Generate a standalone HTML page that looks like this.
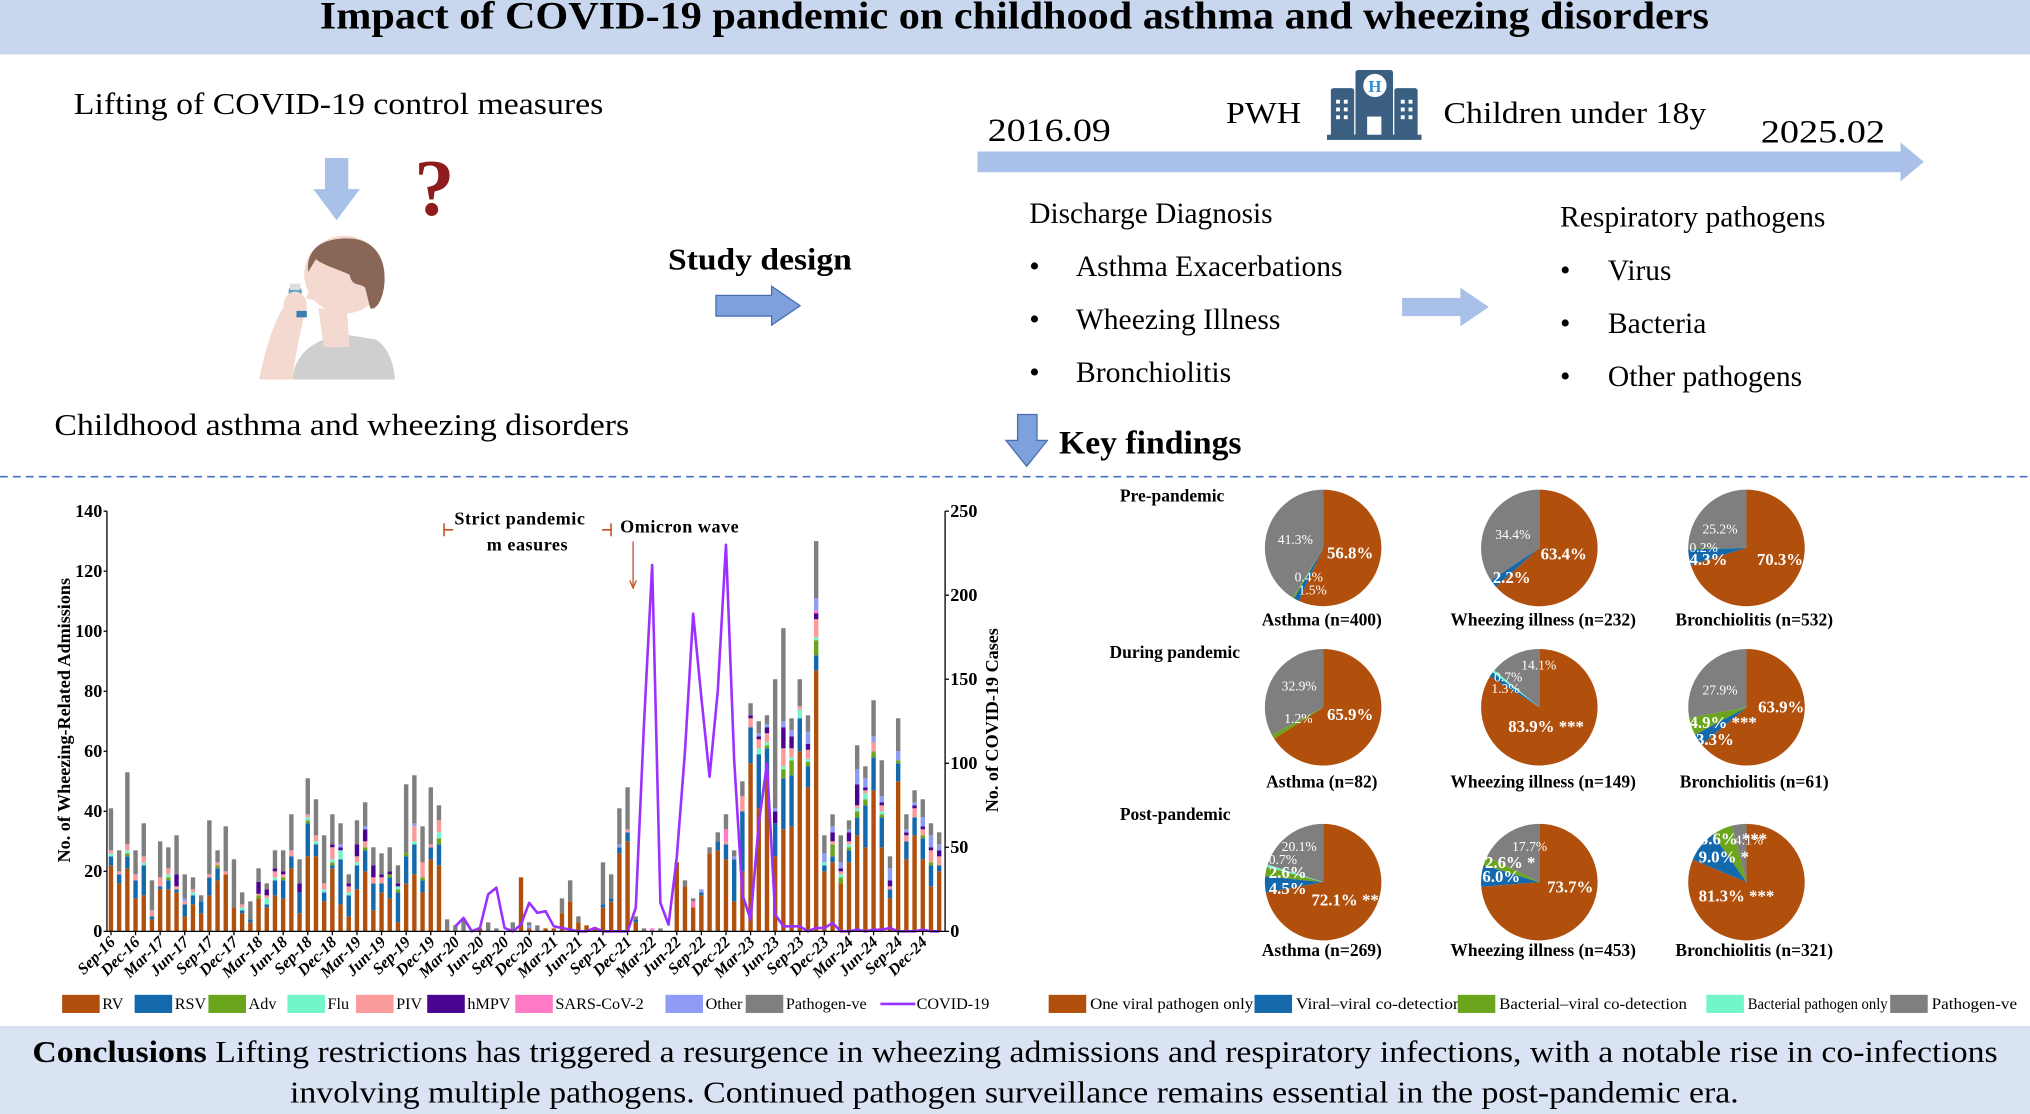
<!DOCTYPE html>
<html><head><meta charset="utf-8"><title>Impact of COVID-19 pandemic on childhood asthma</title>
<style>
html,body{margin:0;padding:0;background:#fff;}
svg{display:block;}
text{font-family:"Liberation Serif",serif;}
</style></head>
<body>
<svg id="root" xmlns="http://www.w3.org/2000/svg" width="2030" height="1114" viewBox="0 0 1568 860" preserveAspectRatio="none">
<rect x="0" y="0" width="1568" height="860" fill="#fff"/>
<rect x="0" y="0" width="1568" height="42" fill="#c8d6ee"/>
<text x="247" y="22" font-size="30" font-weight="bold" fill="#000" textLength="1073" lengthAdjust="spacingAndGlyphs">Impact of COVID-19 pandemic on childhood asthma and wheezing disorders</text>

<text x="57" y="88" font-size="24" textLength="409" lengthAdjust="spacingAndGlyphs">Lifting of COVID-19 control measures</text>
<path d="M251,122 H269 V146 H278 L260,170 L242,146 H251 Z" fill="#a9c0e8"/>
<text x="320" y="166" font-size="62" font-weight="bold" fill="#8e1c1c" font-family="Liberation Sans, sans-serif">?</text>
<g>
  <path d="M200,293 C205,270 212,245 222,233 L236,240 C232,255 228,275 226,293 Z" fill="#f3d9cf"/>
  <path d="M226,293 C228,270 245,262 265,258 L290,262 C300,268 304,280 305,293 Z" fill="#cfcfcf"/>
  <path d="M246,238 L250,268 L270,268 L268,240 Z" fill="#f3d9cf"/>
  <ellipse cx="266" cy="212" rx="31" ry="30" fill="#f3d9cf"/>
  <path d="M238,210 C236,190 252,184 268,184 C290,184 298,200 297,218 C296,232 290,240 286,238 L282,222 C278,218 272,222 270,212 C262,208 250,205 244,200 Z" fill="#8a6656"/>
  <path d="M242,220 L236,230 L243,232 Z" fill="#f3d9cf"/>
  <rect x="223" y="222" width="10" height="22" rx="2" fill="#4a9ccc"/>
  <rect x="224" y="219" width="8" height="5" fill="#ddd"/>
  <ellipse cx="228" cy="236" rx="9" ry="11" fill="#f3d9cf"/>
  <rect x="229" y="240" width="8" height="5" fill="#3a7fb0"/>
</g>
<text x="42" y="336" font-size="24" textLength="444" lengthAdjust="spacingAndGlyphs">Childhood asthma and wheezing disorders</text>

<text x="516" y="208" font-size="24" font-weight="bold" textLength="142" lengthAdjust="spacingAndGlyphs">Study design</text>
<path d="M553,228 H596 V221 L618,236 L596,251 V244 H553 Z" fill="#7ea0dc" stroke="#4a6fb0" stroke-width="1"/>

<path d="M755,117 H1468 V110 L1486,125 L1468,140 V133 H755 Z" fill="#a9c0e8"/>
<text x="763" y="109" font-size="25" textLength="95" lengthAdjust="spacingAndGlyphs">2016.09</text>
<text x="947" y="95" font-size="24" textLength="58" lengthAdjust="spacingAndGlyphs">PWH</text>
<g fill="#3b5f80">
  <rect x="1047" y="54" width="29" height="52" rx="2"/>
  <rect x="1028" y="68" width="18" height="38" rx="2"/>
  <rect x="1077" y="68" width="18" height="38" rx="2"/>
  <rect x="1025" y="104" width="73" height="4"/>
  <circle cx="1062" cy="66" r="9" fill="#fff"/>
  <text x="1062" y="71" text-anchor="middle" font-size="13" font-weight="bold" fill="#2f8fd8" font-family="Liberation Sans, sans-serif">H</text>
  <rect x="1056" y="90" width="11" height="14" fill="#fff"/>
  <g fill="#fff">
   <rect x="1032" y="77" width="3" height="3"/><rect x="1038" y="77" width="3" height="3"/>
   <rect x="1032" y="83" width="3" height="3"/><rect x="1038" y="83" width="3" height="3"/>
   <rect x="1032" y="89" width="3" height="3"/><rect x="1038" y="89" width="3" height="3"/>
   <rect x="1082" y="77" width="3" height="3"/><rect x="1088" y="77" width="3" height="3"/>
   <rect x="1082" y="83" width="3" height="3"/><rect x="1088" y="83" width="3" height="3"/>
   <rect x="1082" y="89" width="3" height="3"/><rect x="1088" y="89" width="3" height="3"/>
  </g>
</g>
<text x="1115" y="95" font-size="24" textLength="203" lengthAdjust="spacingAndGlyphs">Children under 18y</text>
<text x="1360" y="110" font-size="25" textLength="96" lengthAdjust="spacingAndGlyphs">2025.02</text>

<text x="795" y="172" font-size="23" textLength="188" lengthAdjust="spacingAndGlyphs">Discharge Diagnosis</text>
<g font-size="23">
  <text x="795" y="213">•</text><text x="831" y="213" textLength="206" lengthAdjust="spacingAndGlyphs">Asthma Exacerbations</text>
  <text x="795" y="254">•</text><text x="831" y="254" textLength="158" lengthAdjust="spacingAndGlyphs">Wheezing Illness</text>
  <text x="795" y="295">•</text><text x="831" y="295" textLength="120" lengthAdjust="spacingAndGlyphs">Bronchiolitis</text>
</g>
<path d="M1083,230 H1128 V222 L1150,237 L1128,252 V244 H1083 Z" fill="#a9c0e8"/>
<text x="1205" y="175" font-size="23" textLength="205" lengthAdjust="spacingAndGlyphs">Respiratory pathogens</text>
<g font-size="23">
  <text x="1205" y="216">•</text><text x="1242" y="216" textLength="49" lengthAdjust="spacingAndGlyphs">Virus</text>
  <text x="1205" y="257">•</text><text x="1242" y="257" textLength="76" lengthAdjust="spacingAndGlyphs">Bacteria</text>
  <text x="1205" y="298">•</text><text x="1242" y="298" textLength="150" lengthAdjust="spacingAndGlyphs">Other pathogens</text>
</g>
<path d="M786,320 H801 V340 H809 L793,360 L777,340 H786 Z" fill="#7ea0dc" stroke="#4a6fb0" stroke-width="1"/>
<text x="818" y="350" font-size="25" font-weight="bold" textLength="141" lengthAdjust="spacingAndGlyphs">Key findings</text>

<line x1="0" y1="368" x2="1568" y2="368" stroke="#4472c4" stroke-width="1.3" stroke-dasharray="6,4"/>

<g id="chart"></g>
<g id="pies"></g>

<rect x="0" y="792" width="1568" height="68" fill="#d9e3f3"/>
<text x="25" y="820" font-size="24" textLength="1518" lengthAdjust="spacingAndGlyphs"><tspan font-weight="bold">Conclusions</tspan> Lifting restrictions has triggered a resurgence in wheezing admissions and respiratory infections, with a notable rise in co-infections</text>
<text x="224" y="851" font-size="24" textLength="1119" lengthAdjust="spacingAndGlyphs">involving multiple pathogens. Continued pathogen surveillance remains essential in the post-pandemic era.</text>
</svg>

<script>
const rv = [22,16,21,11,12,4,14,14,13,5, 9,6,12,17,19,8,6,3,11,8, 12,11,21,6,25,25,10,21,9,5, 14,20,7,13,11,3,16,19,13,24, 22,0.5,0,0,0,1,0,0,0,0, 18,1,0,1,1,6,10,3,2,1, 8,10,26,30,3,0,0,0,0,23, 15,8,12,26,27,24,10,20,56,41, 51,25,34,35,60,48,87,20,23,16, 23,32,28,47,28,11,50,24,32,24, 15,20];
const rsv = [3,3,4,6,10,1,1,3,1,4, 3,4,6,4,0,0,1,1,0,1, 5,6,4,7,11,4,3,1,15,7, 8,7,9,3,7,10,9,10,4,4, 7,0,0,0,0,0,0,0,0,0, 0,0,0,0,0,0,0,0,0,0, 1,1,2,3,1,0,0,0,0,0, 0,0,1,0,3,5,14,20,12,18, 10,11,17,17,11,7,5,2,2,0, 4,6,14,11,10,3,6,6,6,7, 7,2];
const adv = [0,0,1,0,0,0,0,1,0,0, 0,0,0,1,0,0,0,0,1,0, 0,1,0,0,1,0,0,1,0,0, 0,1,0,0,1,1,1,0,1,0, 2,0,0,0,0,0,0,0,0,0, 0,0,0,0,0,0,0,0,0,0, 0,0,0,0,0,0,0,0,0,0, 0,0,0,0,0,0,0,0,0,0, 1,0,3,5,0,1.5,5,0,4,2, 1,2,2,2,1,0,1,0,0,1, 1,0];
const flu = [1,0,1,0,1,0,0,1,0,0, 1,0,0,0,0,0,1,0,0,2, 1,0,0,0,1,1,1,1,3,1, 1,0,0,0,0,1,0,1,0,0, 2,0,0,0,0,0,0,0,0,0, 0,0,0,0,0,0,0,0,0,0, 0,0,0,0,0,0,0,0,0,0, 0,0,0,0,0,0,0,0,0,2, 1,0,1,1,3,1,1,1,0,1, 1,1,2,0,1,0,0,0,0,0, 0,0];
const piv = [1,1,2,2,2,2,3,2,1,1, 1,0,1,1,1,0,1,0,0.5,1, 2,1,2,0,1,2,2,4,0,2, 2,2,2,2,0,0,0,5,5,1, 4,0,0,0,0,0,0,0,0,0, 0,0,0,0,0,0,0,0,0,0, 0,0,0,1,0,0,0,0,0,0, 0,0,0,0,0,1,0,5,3,3, 3,0,6,3,1,3,6,0,1,1, 1,1,1,3,2,1,0,2,3,2, 4,3];
const hmpv = [0,0,0,0,0,0,0,0,4,0, 0,0,0,0,0,0,0,0,4,2, 1,1,0,3,0,0,0,1,1,1, 4,4,4,1,1,1,0,0,0,0, 0,0,0,0,0,0,0,0,0,0, 0,0,0,0,0,0,0,0,0,0, 0,0,0,0,0,0,0,0,0,0, 0,0,0,0,0,0,0,0,1,1, 2,4,7,4,0,2,2,0,3,1, 3,7,1,0,1,2,0,1,1,1, 1,2];
const sars = [0,0,0,0,0,0,0,0,0,0, 0,0,0,0,0,0,0,0,0,0, 0,0,0,0,0,0,0,0,0,0, 0,0,0,0,0,0,0,0,0,0, 0,0,0,0,0,0,0,0,0,0, 0,0,0,0,0,0,0,0,0,0, 0,0,0,0,0,0,1,0,0,0, 0,2,0,0,0,4,0,0,0,0, 0,0,0,0,0,0,1,0,0,0, 0,0,0,0,0,0,0,0,0,0, 0,0];
const other = [0,0,0,0,0,0,0,0,0,1, 0,0,0,0,0,0,0,0,0,0, 0,0,0,0,0,0,0,0,1,0, 0,1,0,0,0,0,0,1,0,0, 0,0,0,0,0,0,0,0,0,0, 0,1,0,0,0,0,0,0,0,0, 0,0,1,0,0,0,0,0,0,0, 0,0,1,0,0,0,1,0,0,1, 1,1,2,2,0,4,4,3,2,2, 1,5,3,2,2,4,3,1,1,3, 4,2];
const negative = [14,7,24,8,11,10,12,7,13,8, 4,2,18,4,15,16,4,6,4.5,2, 6,7,12,8,12,12,16,10,7,3, 8,8,6,7,8,6,23,16,12,19, 5,3.5,2,4,0,0,3,1,0,3, 0,1,2,0,0,5,7,2,0,0, 14,8,12,14,1,1,0,1,0,0, 2,1,0,2,3,5,2,5,4,4, 3,43,31,4,9,5.5,19,6,4,9, 3,8,4,12,12,4,11,5,4,6, 4,4];
const covid = [null,null,null,null,null,null,null,null,null,null, null,null,null,null,null,null,null,null,null,null, null,null,null,null,null,null,null,null,null,null, null,null,null,null,null,null,null,null,null,null, null,null,3,8,0,2,22,26,2,0, 4,17,11,12,3,2,1,0,0,2, 0,0,0,0,14,123,218,17,4,44, 107,189,139,92,143,230,102,22,7,64, 100,10,3,3,3,0,2,2,5,0, 0,1,0,1,1,2,0,0,0,1, 0,0];
const xTickLabels = ["Sep-16","Dec-16","Mar-17","Jun-17","Sep-17","Dec-17","Mar-18","Jun-18","Sep-18","Dec-18","Mar-19","Jun-19","Sep-19","Dec-19","Mar-20","Jun-20","Sep-20","Dec-20","Mar-21","Jun-21","Sep-21","Dec-21","Mar-22","Jun-22","Sep-22","Dec-22","Mar-23","Jun-23","Sep-23","Dec-23","Mar-24","Jun-24","Sep-24","Dec-24"];
const leftTicks = [0,20,40,60,80,100,120,140];
const rightTicks = [0,50,100,150,200,250];
const seriesNames = ["RV","RSV","Adv","Flu","PIV","hMPV","SARS-CoV-2","Other","Pathogen-ve"];
const seriesColors = ["#b0500c","#1469ad","#6aa51c","#73f5cc","#fa9a9a","#4a0590","#ff7ac4","#8e9cf5","#7f7f7f"];

const pieGroups = ["Pre-pandemic","During pandemic","Post-pandemic"];
const pieCaptions = [["Asthma (n=400)","Wheezing illness (n=232)","Bronchiolitis (n=532)"],["Asthma (n=82)","Wheezing illness (n=149)","Bronchiolitis (n=61)"],["Asthma (n=269)","Wheezing illness (n=453)","Bronchiolitis (n=321)"]];
const preShares = [[56.8,1.5,0.4,0,41.3],[63.4,2.2,0,0,34.4],[70.3,4.3,0.2,0,25.2]];
const duringShares = [[65.9,0,1.2,0,32.9],[83.9,1.3,0,0.7,14.1],[63.9,3.3,4.9,0,27.9]];
const postShares = [[72.1,4.5,2.6,0.7,20.1],[73.7,6.0,2.6,0,17.7],[81.3,9.0,5.6,0,4.1]];
const pieCategories = ["One viral pathogen only","Viral\u2013viral co-detection","Bacterial\u2013viral co-detection","Bacterial pathogen only","Pathogen-ve"];
const pieColors = ["#b0500c","#1469ad","#6aa51c","#73f5cc","#7f7f7f"];

const NS = "http://www.w3.org/2000/svg";
function mk(tag, attrs, parent){const e=document.createElementNS(NS,tag);for(const k in attrs)e.setAttribute(k,attrs[k]);parent.appendChild(e);return e;}

const X0 = 85.7, STEP = 6.334, BW = 3.4;
const Y0 = 719, YTOP = 394.6;
const xScale = i => X0 + STEP*i;
const yLeft = v => Y0 - v*(Y0-YTOP)/140;
const yRight = v => Y0 - v*(Y0-YTOP)/250;

const chart = document.getElementById('chart');
const series = [rv,rsv,adv,flu,piv,hmpv,sars,other,negative];
for(let i=0;i<rv.length;i++){
  let acc=0;
  for(let s=0;s<series.length;s++){
    const v=series[s][i]; if(!v) continue;
    const r=mk('rect',{x:(xScale(i)-BW/2).toFixed(2),y:yLeft(acc+v).toFixed(2),width:BW,height:(yLeft(acc)-yLeft(acc+v)).toFixed(2),fill:seriesColors[s]},chart);
    
    
    acc+=v;
  }
}
let d='';
covid.forEach((v,i)=>{ if(v===null) return; d+=(d?'L':'M')+xScale(i).toFixed(2)+','+yRight(v).toFixed(2); });
const line=mk('path',{d:d,fill:'none',stroke:'#9b30ff','stroke-width':2,'stroke-linejoin':'round'},chart);



const la=mk('line',{x1:82.6,y1:YTOP,x2:82.6,y2:Y0,stroke:'#000','stroke-width':1},chart);


const ra=mk('line',{x1:730,y1:YTOP,x2:730,y2:Y0,stroke:'#000','stroke-width':1},chart);


const xa=mk('line',{x1:82.6,y1:Y0,x2:730,y2:Y0,stroke:'#000','stroke-width':1},chart);


leftTicks.forEach(v=>{
  mk('line',{x1:80,y1:yLeft(v),x2:82.6,y2:yLeft(v),stroke:'#000'},chart);
  const t=mk('text',{x:79,y:yLeft(v)+4.5,'text-anchor':'end','font-size':14,'font-weight':'bold'},chart);
  t.textContent=v;
  
  
});
rightTicks.forEach(v=>{
  mk('line',{x1:730,y1:yRight(v),x2:733,y2:yRight(v),stroke:'#000'},chart);
  const t=mk('text',{x:734,y:yRight(v)+4.5,'font-size':14,'font-weight':'bold'},chart);
  t.textContent=v;
  
  
});
xTickLabels.forEach((lab,k)=>{
  const i=k*3, x=xScale(i);
  mk('line',{x1:x,y1:Y0,x2:x,y2:Y0+3,stroke:'#000'},chart);
  const t=mk('text',{x:x+4,y:Y0+9,'text-anchor':'end','font-size':12.5,'font-weight':'bold','font-style':'italic',transform:`rotate(-45 ${x+4} ${Y0+9})`},chart);
  t.textContent=lab;
  
  
});
const yt=mk('text',{x:54,y:556,'text-anchor':'middle','font-size':14,'font-weight':'bold',transform:'rotate(-90 54 556)'},chart);
yt.textContent='No.  of Wheezing-Related Admissions';


const yt2=mk('text',{x:771,y:556,'text-anchor':'middle','font-size':14,'font-weight':'bold',transform:'rotate(-90 771 556)'},chart);
yt2.textContent='No. of COVID-19 Cases';



const ann=mk('g',{},chart);


mk('path',{d:'M343,404 V414 M343,409 H350 M472,404 V414 M465,409 H472',stroke:'#c0501e','stroke-width':1.2,fill:'none'},ann);
const a1=mk('text',{x:351,y:405,'font-size':14,'font-weight':'bold','letter-spacing':'0.4'},ann); a1.textContent='Strict pandemic';
const a2=mk('text',{x:376,y:425,'font-size':14,'font-weight':'bold','letter-spacing':'0.4'},ann); a2.textContent='m easures';
const a3=mk('text',{x:479,y:411,'font-size':14,'font-weight':'bold','letter-spacing':'0.4'},ann); a3.textContent='Omicron wave';
mk('path',{d:'M489,418 V452 M486.5,448 L489,454 L491.5,448',stroke:'#c0501e','stroke-width':1,fill:'none'},ann);

const legX=[48,104,161,222,275,330,398,514,576];
seriesNames.forEach((n,s)=>{
  const r=mk('rect',{x:legX[s],y:768,width:29,height:14,fill:seriesColors[s]},chart);
  
  
  const t=mk('text',{x:legX[s]+31,y:779,'font-size':12.5},chart);
  t.textContent=n;
  
  
});
const ll=mk('line',{x1:680,y1:775,x2:707,y2:775,stroke:'#9b30ff','stroke-width':2},chart);


const lt=mk('text',{x:708,y:779,'font-size':12.5},chart);
lt.textContent='COVID-19';



const pies=document.getElementById('pies');
const allShares=[preShares,duringShares,postShares];
const pcx=[1022,1189,1349], pcy=[423,546,681], PR=45;
const groupLabelPos=[[865,387],[857,508],[865,633]];
const capY=[483,608,738], capX=[1021,1192,1355];
allShares.forEach((row,g)=>{
  const gl=mk('text',{x:groupLabelPos[g][0],y:groupLabelPos[g][1],'font-size':13.5,'font-weight':'bold'},pies);
  gl.textContent=pieGroups[g];
  
  
  row.forEach((shares,p)=>{
    const cx=pcx[p], cy=pcy[g];
    let a0=0;
    shares.forEach((v,k)=>{
      if(!v) return;
      const a1=a0+v/100*2*Math.PI;
      const x0=cx+PR*Math.sin(a0), y0=cy-PR*Math.cos(a0), x1=cx+PR*Math.sin(a1), y1=cy-PR*Math.cos(a1);
      const large=(a1-a0)>Math.PI?1:0;
      const sl=mk('path',{d:`M${cx},${cy} L${x0.toFixed(2)},${y0.toFixed(2)} A${PR},${PR} 0 ${large} 1 ${x1.toFixed(2)},${y1.toFixed(2)} Z`,fill:pieColors[k]},pies);
      
      
      a0=a1;
    });
    const c=mk('text',{x:capX[p],y:capY[g],'text-anchor':'middle','font-size':13.5,'font-weight':'bold'},pies);
    c.textContent=pieCaptions[g][p];
    
    
  });
});
const pieLabels=[
 [987,420,'41.3%',0],[1025,431,'56.8%',1],[1000,449,'0.4%',0],[1003,459,'1.5%',0],
 [1155,416,'34.4%',0],[1190,432,'63.4%',1],[1153,450,'2.2%',1],
 [1315,412,'25.2%',0],[1305,426,'0.2%',0],[1305,436,'4.3%',1],[1357,436,'70.3%',1],
 [990,533,'32.9%',0],[992,558,'1.2%',0],[1025,556,'65.9%',1],
 [1175,517,'14.1%',0],[1154,526,'0.7%',0],[1152,535,'1.3%',0],[1165,565,'83.9% ***',1],
 [1315,536,'27.9%',0],[1358,550,'63.9%',1],[1305,562,'4.9% ***',1],[1310,575,'3.3%',1],
 [990,657,'20.1%',0],[980,667,'0.7%',0],[980,678,'2.6%',1],[980,690,'4.5%',1],[1013,699,'72.1% ***',1],
 [1168,657,'17.7%',0],[1147,670,'2.6% *',1],[1145,681,'6.0%',1],[1195,689,'73.7%',1],
 [1313,652,'5.6% ***',1],[1340,652,'4.1%',0],[1312,666,'9.0% *',1],[1312,696,'81.3% ***',1]
];
pieLabels.forEach(L=>{
  const t=mk('text',{x:L[0],y:L[1],fill:'#fff','font-size':L[3]?13:10.5,'font-weight':L[3]?'bold':'normal'},pies);
  t.textContent=L[2];
  
  
});
const pLegX=[810,969,1126,1318,1460];
const pLegW=[126,128,145,108,66];
pieCategories.forEach((n,k)=>{
  const r=mk('rect',{x:pLegX[k],y:768,width:29,height:14,fill:pieColors[k]},pies);
  
  
  const t=mk('text',{x:pLegX[k]+32,y:779,'font-size':12.5,textLength:pLegW[k],lengthAdjust:'spacingAndGlyphs'},pies);
  t.textContent=n;
  
  
});
</script>
</body></html>
